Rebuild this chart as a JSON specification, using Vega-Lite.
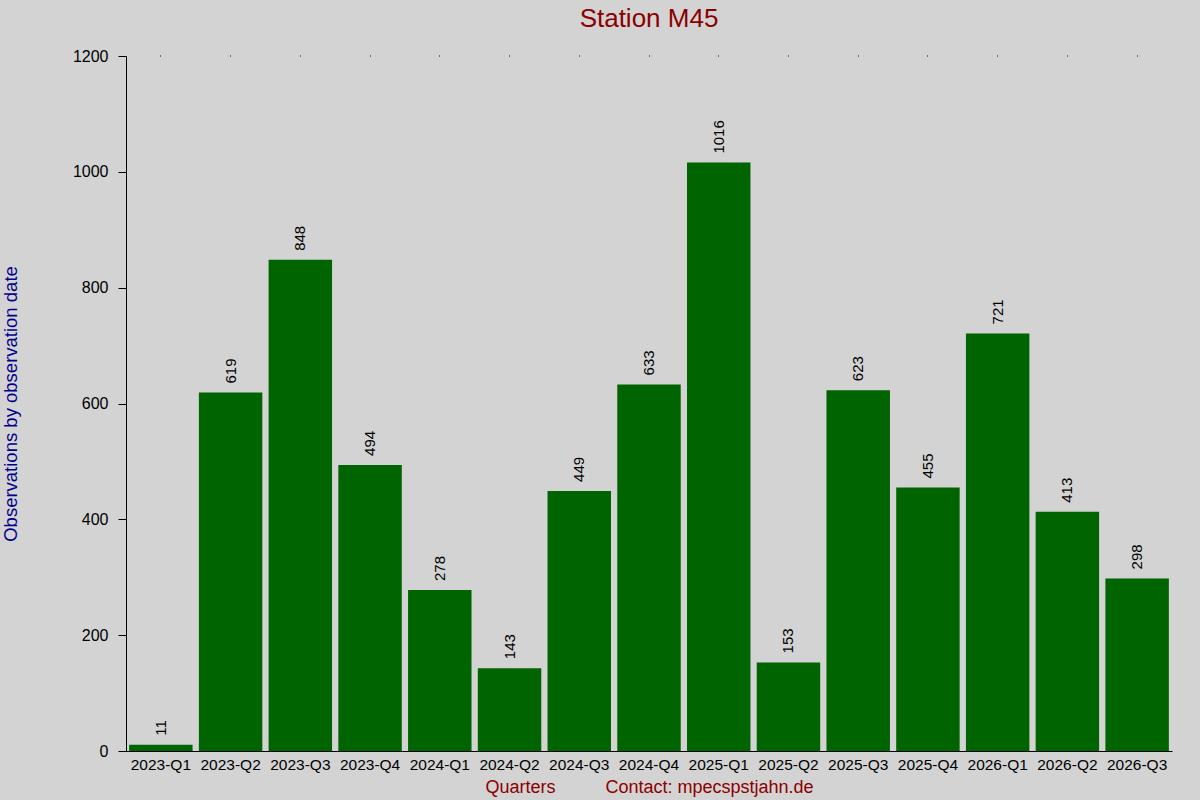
{
  "$schema": "https://vega.github.io/schema/vega-lite/v6.json",
  "width": 1046,
  "height": 695,
  "autosize": {"type": "none"},
  "padding": {"left": 126, "top": 56, "right": 28, "bottom": 49},
  "background": "#d3d3d3",
  "config": {"view": {"stroke": null}, "font": "Liberation Sans"},
  "title": {
    "text": "Station M45",
    "color": "#8b0000",
    "fontSize": 26,
    "fontWeight": "normal",
    "anchor": "middle",
    "frame": "group",
    "baseline": "alphabetic",
    "offset": 21,
    "dy": 26
  },
  "data": {
    "values": [
      {"quarter": "2023-Q1", "count": 11},
      {"quarter": "2023-Q2", "count": 619},
      {"quarter": "2023-Q3", "count": 848},
      {"quarter": "2023-Q4", "count": 494},
      {"quarter": "2024-Q1", "count": 278},
      {"quarter": "2024-Q2", "count": 143},
      {"quarter": "2024-Q3", "count": 449},
      {"quarter": "2024-Q4", "count": 633},
      {"quarter": "2025-Q1", "count": 1016},
      {"quarter": "2025-Q2", "count": 153},
      {"quarter": "2025-Q3", "count": 623},
      {"quarter": "2025-Q4", "count": 455},
      {"quarter": "2026-Q1", "count": 721},
      {"quarter": "2026-Q2", "count": 413},
      {"quarter": "2026-Q3", "count": 298}
    ]
  },
  "resolve": {"axis": {"x": "independent", "y": "independent"}},
  "layer": [
    {
      "mark": {"type": "bar", "color": "#006400"},
      "encoding": {
        "x": {
          "field": "quarter",
          "type": "nominal",
          "sort": null,
          "scale": {"paddingInner": 0.09, "paddingOuter": 0.045},
          "axis": {
            "orient": "bottom",
            "ticks": false,
            "labelAngle": 0,
            "labelFontSize": 15.5,
            "labelColor": "black",
            "labelPadding": 6,
            "domainColor": "black",
            "domainWidth": 1,
            "title": "Quarters\u00a0\u00a0\u00a0\u00a0\u00a0\u00a0\u00a0\u00a0\u00a0\u00a0Contact: mpecspstjahn.de",
            "titleColor": "#8b0000",
            "titleFontSize": 18,
            "titleFontWeight": "normal",
            "titleAnchor": "middle",
            "titleBaseline": "alphabetic",
            "titleY": 41
          }
        },
        "y": {
          "field": "count",
          "type": "quantitative",
          "scale": {"domain": [0, 1200], "nice": false},
          "axis": {
            "values": [0, 200, 400, 600, 800, 1000, 1200],
            "format": "d",
            "grid": false,
            "tickSize": 8,
            "tickColor": "black",
            "domainColor": "black",
            "labelColor": "black",
            "labelFontSize": 16,
            "labelPadding": 10,
            "title": "Observations by observation date",
            "titleColor": "#00008b",
            "titleFontSize": 18.5,
            "titleFontWeight": "normal",
            "titleAngle": -90,
            "titleBaseline": "alphabetic",
            "titleAnchor": "middle",
            "titleX": -110,
            "titleY": 347.5
          }
        }
      }
    },
    {
      "mark": {"type": "text", "angle": -90, "align": "left", "baseline": "middle", "dx": 9, "fontSize": 15, "color": "black"},
      "encoding": {
        "x": {
          "field": "quarter",
          "type": "nominal",
          "sort": null,
          "axis": {
            "orient": "top",
            "labels": false,
            "domain": false,
            "ticks": true,
            "tickSize": 1,
            "tickColor": "black",
            "title": null
          }
        },
        "y": {"field": "count", "type": "quantitative", "axis": null},
        "text": {"field": "count", "type": "quantitative"}
      }
    }
  ]
}
